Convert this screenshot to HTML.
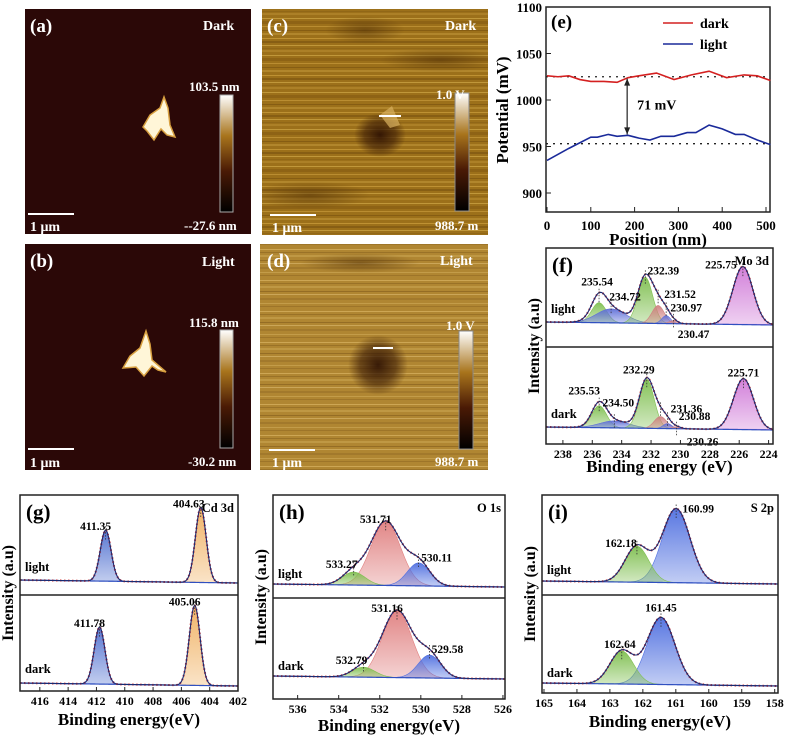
<!DOCTYPE html>
<html><head><meta charset="utf-8"><style>
html,body{margin:0;padding:0;background:#fff;}
svg{display:block;font-family:"Liberation Serif",serif;font-weight:bold;}
</style></head><body>
<svg id="fig" width="790" height="737" viewBox="0 0 790 737" xmlns="http://www.w3.org/2000/svg">
<defs>
<linearGradient id="cbar" x1="0" y1="1" x2="0" y2="0">
<stop offset="0" stop-color="#000"/><stop offset="0.35" stop-color="#4a1a05"/><stop offset="0.65" stop-color="#a8741c"/><stop offset="1" stop-color="#fff"/>
</linearGradient>
<pattern id="stripesC" width="230" height="37" patternUnits="userSpaceOnUse">
<rect width="230" height="37" fill="#9c701a"/>
<rect y="1" width="230" height="1" fill="#c79a3a" opacity="0.8"/>
<rect y="4" width="230" height="2" fill="#7a5210" opacity="0.6"/>
<rect y="8" width="230" height="1" fill="#d0a848" opacity="0.7"/>
<rect y="11" width="230" height="1" fill="#8a6015" opacity="0.6"/>
<rect y="13" width="230" height="2" fill="#b88a30" opacity="0.6"/>
<rect y="18" width="230" height="1" fill="#d8b050" opacity="0.6"/>
<rect y="21" width="230" height="3" fill="#80560f" opacity="0.5"/>
<rect y="26" width="230" height="1" fill="#c89a3a" opacity="0.7"/>
<rect y="30" width="230" height="1" fill="#704a0c" opacity="0.5"/>
<rect y="33" width="230" height="2" fill="#c09438" opacity="0.6"/>
</pattern>
<pattern id="stripesD" width="230" height="31" patternUnits="userSpaceOnUse">
<rect width="230" height="31" fill="#b08632"/>
<rect y="1" width="230" height="1" fill="#d4ae5c" opacity="0.8"/>
<rect y="4" width="230" height="1" fill="#8c6420" opacity="0.6"/>
<rect y="7" width="230" height="2" fill="#caa450" opacity="0.6"/>
<rect y="12" width="230" height="1" fill="#845c1c" opacity="0.6"/>
<rect y="15" width="230" height="1" fill="#d8b468" opacity="0.7"/>
<rect y="19" width="230" height="2" fill="#9a7028" opacity="0.6"/>
<rect y="24" width="230" height="1" fill="#d0aa58" opacity="0.6"/>
<rect y="27" width="230" height="1" fill="#8c6420" opacity="0.5"/>
</pattern>
<radialGradient id="blob"><stop offset="0" stop-color="#2a0e02" stop-opacity="0.9"/><stop offset="0.6" stop-color="#3a1a05" stop-opacity="0.6"/><stop offset="1" stop-color="#3a1a05" stop-opacity="0"/></radialGradient>
<radialGradient id="band"><stop offset="0" stop-color="#4a2a05" stop-opacity="0.5"/><stop offset="1" stop-color="#4a2a05" stop-opacity="0"/></radialGradient>
<clipPath id="clipC"><rect x="262" y="9" width="226" height="226"/></clipPath>
<clipPath id="clipD"><rect x="260" y="244" width="228" height="226"/></clipPath>
</defs>

<!-- (a) -->
<g>
<rect x="25" y="9" width="226" height="225" fill="#2b0807"/>
<polygon points="143,127 150,115 160,108 164,97 168,108 170,125 175,137 167,135 161,129 154,140 147,131" fill="#fff6d8" stroke="#d8a040" stroke-width="1.5"/>
<text x="30" y="32" fill="#fff" font-size="19">(a)</text>
<text x="203" y="30" fill="#fff" font-size="14">Dark</text>
<rect x="220" y="95" width="13" height="117" fill="url(#cbar)" stroke="#aaa" stroke-width="1"/>
<text x="189" y="91" fill="#fff" font-size="13">103.5 nm</text>
<text x="184" y="230" fill="#fff" font-size="13">--27.6 nm</text>
<line x1="28" y1="214" x2="74" y2="214" stroke="#fff" stroke-width="2"/>
<text x="30" y="231" fill="#fff" font-size="14">1 μm</text>
</g>
<!-- (b) -->
<g>
<rect x="25" y="244" width="226" height="226" fill="#2b0807"/>
<polygon points="123,368 130,356 140,348 146,331 150,344 152,360 166,372 158,370 152,366 144,376 136,367" fill="#fff6d8" stroke="#d8a040" stroke-width="1.5"/>
<text x="30" y="267" fill="#fff" font-size="19">(b)</text>
<text x="202" y="266" fill="#fff" font-size="14">Light</text>
<rect x="220" y="330" width="13" height="118" fill="url(#cbar)" stroke="#aaa" stroke-width="1"/>
<text x="189" y="327" fill="#fff" font-size="13">115.8 nm</text>
<text x="188" y="466" fill="#fff" font-size="13">-30.2 nm</text>
<line x1="28" y1="449" x2="74" y2="449" stroke="#fff" stroke-width="2"/>
<text x="30" y="467" fill="#fff" font-size="14">1 μm</text>
</g>
<!-- (c) -->
<g>
<rect x="262" y="9" width="226" height="226" fill="url(#stripesC)"/>
<g clip-path="url(#clipC)">
<ellipse cx="365" cy="30" rx="40" ry="14" fill="url(#band)"/>
<ellipse cx="310" cy="195" rx="60" ry="14" fill="url(#band)"/>
<ellipse cx="440" cy="60" rx="60" ry="12" fill="url(#band)"/>
<ellipse cx="380" cy="135" rx="26" ry="22" fill="url(#blob)"/>
</g>
<polygon points="380,115 392,106 400,125 390,128" fill="#d8b060" opacity="0.7"/>
<line x1="379" y1="116" x2="401" y2="116" stroke="#fff" stroke-width="2"/>
<text x="267" y="32" fill="#fff" font-size="19">(c)</text>
<text x="445" y="30" fill="#fff" font-size="14">Dark</text>
<rect x="455" y="93" width="14" height="118" fill="url(#cbar)" stroke="#888" stroke-width="1"/>
<text x="436" y="99" fill="#fff" font-size="13">1.0 V</text>
<text x="435" y="230" fill="#fff" font-size="13">988.7 m</text>
<line x1="270" y1="215" x2="316" y2="215" stroke="#fff" stroke-width="2"/>
<text x="272" y="232" fill="#fff" font-size="14">1 μm</text>
</g>
<!-- (d) -->
<g>
<rect x="260" y="244" width="228" height="226" fill="url(#stripesD)"/>
<g clip-path="url(#clipD)">
<ellipse cx="360" cy="263" rx="60" ry="10" fill="url(#band)"/>
<ellipse cx="378" cy="365" rx="30" ry="30" fill="url(#blob)"/>
</g>
<line x1="373" y1="348" x2="393" y2="348" stroke="#fff" stroke-width="2"/>
<text x="267" y="267" fill="#fff" font-size="19">(d)</text>
<text x="440" y="265" fill="#fff" font-size="14">Light</text>
<rect x="459" y="331" width="14" height="118" fill="url(#cbar)" stroke="#888" stroke-width="1"/>
<text x="446" y="330" fill="#fff" font-size="13">1.0 V</text>
<text x="435" y="466" fill="#fff" font-size="13">988.7 m</text>
<line x1="269" y1="450" x2="315" y2="450" stroke="#fff" stroke-width="2"/>
<text x="272" y="467" fill="#fff" font-size="14">1 μm</text>
</g>

<g id="chartE"></g>
<g id="xps"></g>
</svg>
<script>
// ---- (e) potential profile data ----
const posDark = [0, 25, 50, 75, 100, 130, 160, 185, 210, 250, 290, 330, 370, 410, 450, 480, 510];
const potDark = [1026, 1025, 1026, 1022, 1020, 1020, 1019, 1024, 1026, 1029, 1022, 1027, 1031, 1024, 1027, 1026, 1021];
const posLight = [0, 50, 100, 115, 140, 160, 185, 210, 235, 260, 290, 320, 340, 370, 400, 430, 450, 480, 510];
const potLight = [935, 948, 960, 960, 963, 961, 962, 959, 957, 961, 961, 965, 965, 973, 969, 963, 963, 957, 952];
const xTicksE = [0, 100, 200, 300, 400, 500];
const yTicksE = [900, 950, 1000, 1050, 1100];
const refLevels = [1025, 953];
const gapLabel = "71 mV";

// ---- XPS data: centers (eV), amplitudes (a.u.), sigma (eV) ----
const moLightC = [225.75, 235.54, 234.72, 232.39, 231.52, 230.97, 230.47];
const moLightA = [58, 20, 14, 46, 18, 8, 3];
const moDarkC  = [225.71, 235.53, 234.50, 232.29, 231.36, 230.88, 230.26];
const moDarkA  = [51, 22, 7, 49, 12, 5, 2];
const moSig    = [0.68, 0.5, 1.0, 0.5, 0.42, 0.3, 0.3];
const moCol    = ["#d07ad8", "#7fbf50", "#6070d8", "#7fbf50", "#d08080", "#6070d8", "#d08080"];

const cdLightC = [411.35, 404.63];
const cdLightA = [51, 75];
const cdDarkC  = [411.78, 405.06];
const cdDarkA  = [57, 80];
const cdSig    = [0.38, 0.38];
const cdCol    = ["#5070d0", "#f0b060"];

const oLightC = [531.71, 533.27, 530.11];
const oLightA = [64, 13, 23];
const oDarkC  = [531.16, 532.79, 529.58];
const oDarkA  = [67, 10, 23];
const oSig    = [0.72, 0.55, 0.55];
const oCol    = ["#e08080", "#7fbf50", "#5070e0"];

const sLightC = [160.99, 162.18];
const sLightA = [74, 36];
const sDarkC  = [161.45, 162.64];
const sDarkA  = [67, 33];
const sSig    = [0.42, 0.36];
const sCol    = ["#5070e0", "#7fbf50"];

const NS = "http://www.w3.org/2000/svg";
function mk(tag, attrs, parent) {
  const e = document.createElementNS(NS, tag);
  for (const k in attrs) e.setAttribute(k, attrs[k]);
  parent.appendChild(e);
  return e;
}
function txt(s, attrs, parent) { const t = mk("text", attrs, parent); t.textContent = s; return t; }

// ---- draw (e) ----
(function () {
  const g = document.getElementById("chartE");
  const L = 546, R = 770, T = 7, B = 212;
  const xs = v => L + 1 + (v - 0) * (219 / 500);
  const ys = v => 193 - (v - 900) * (186 / 200);
  const f = mk("rect", {x: L, y: T, width: R - L, height: B - T, fill: "none", stroke: "#222", "stroke-width": 1.5}, g);
  
  
  xTicksE.forEach(v => {
    mk("line", {x1: xs(v), x2: xs(v), y1: B, y2: B - 5, stroke: "#222"}, g);
    const t = txt(String(v), {x: xs(v), y: B + 18, "text-anchor": "middle", "font-size": 13}, g);
    
    
  });
  yTicksE.forEach(v => {
    mk("line", {x1: L, x2: L + 5, y1: ys(v), y2: ys(v), stroke: "#222"}, g);
    const t = txt(String(v), {x: L - 4, y: ys(v) + 5, "text-anchor": "end", "font-size": 13}, g);
    
    
  });
  const xt = txt("Position (nm)", {x: 658, y: 245, "text-anchor": "middle", "font-size": 17}, g);
  
  
  const yt = txt("Potential (mV)", {x: 0, y: 0, "text-anchor": "middle", "font-size": 17, transform: "translate(508,110) rotate(-90)"}, g);
  
  
  refLevels.forEach(v => {
    const l = mk("line", {x1: L, x2: R, y1: ys(v), y2: ys(v), stroke: "#222", "stroke-dasharray": "2,5", "stroke-width": 1.3}, g);
    
    
  });
  const pd = mk("polyline", {points: posDark.map((p, i) => xs(p) + "," + ys(potDark[i])).join(" "), fill: "none", stroke: "#d42020", "stroke-width": 1.6}, g);
  
  
  const pl = mk("polyline", {points: posLight.map((p, i) => xs(p) + "," + ys(potLight[i])).join(" "), fill: "none", stroke: "#1a2a9a", "stroke-width": 1.6}, g);
  
  
  const ax = xs(183);
  const ar = mk("line", {x1: ax, x2: ax, y1: ys(1023), y2: ys(963), stroke: "#222", "stroke-width": 1.2}, g);
  
  
  mk("polygon", {points: `${ax},${ys(1023)} ${ax - 3},${ys(1023) + 7} ${ax + 3},${ys(1023) + 7}`, fill: "#222"}, g);
  mk("polygon", {points: `${ax},${ys(963)} ${ax - 3},${ys(963) - 7} ${ax + 3},${ys(963) - 7}`, fill: "#222"}, g);
  const gl = txt(gapLabel, {x: ax + 10, y: ys(990), "font-size": 14}, g);
  
  
  const pe = txt("(e)", {x: L + 5, y: 28, "font-size": 19}, g);
  
  
  const l1 = mk("line", {x1: 663, x2: 693, y1: 23, y2: 23, stroke: "#d42020", "stroke-width": 1.6}, g);
  
  
  const lt1 = txt("dark", {x: 700, y: 28, "font-size": 14}, g);
  
  
  const l2 = mk("line", {x1: 663, x2: 693, y1: 44, y2: 44, stroke: "#1a2a9a", "stroke-width": 1.6}, g);
  
  
  const lt2 = txt("light", {x: 700, y: 49, "font-size": 14}, g);
  
  
})();

// ---- XPS drawing ----
let gradId = 0;
function gradFor(col, defs) {
  const id = "g" + (gradId++);
  const lg = mk("linearGradient", {id: id, x1: 0, y1: 0, x2: 0, y2: 1}, defs);
  mk("stop", {offset: 0, "stop-color": col, "stop-opacity": 0.95}, lg);
  mk("stop", {offset: 1, "stop-color": col, "stop-opacity": 0.35}, lg);
  return "url(#" + id + ")";
}
function drawSub(g, defs, xs, base, ysc, C, A, S, cols, x0, x1, labels, labelOff) {
  const N = 300;
  const gauss = (x, c, a, s) => a * Math.exp(-((x - c) * (x - c)) / (2 * s * s));
  const baseline = x => base + (x - x1) / (x0 - x1) * -3;
  C.forEach((c, k) => {
    let pts = [];
    for (let i = 0; i <= N; i++) {
      const x = x0 + (x1 - x0) * i / N;
      const v = gauss(x, c, A[k], S[k]);
      if (v > 0.2) pts.push(xs(x) + "," + (baseline(x) - v * ysc));
    }
    if (pts.length < 2) return;
    const poly = mk("polygon", {points: pts.join(" "), fill: gradFor(cols[k], defs), stroke: cols[k], "stroke-width": 0.6}, g);
    
    
  });
  let env = [], bl = [];
  for (let i = 0; i <= N; i++) {
    const x = x0 + (x1 - x0) * i / N;
    let v = 0;
    C.forEach((c, k) => v += gauss(x, c, A[k], S[k]));
    env.push(xs(x) + "," + (baseline(x) - v * ysc));
    bl.push(xs(x) + "," + baseline(x));
  }
  const b = mk("polyline", {points: bl.join(" "), fill: "none", stroke: "#3050c0", "stroke-width": 1.2}, g);
  
  
  const r = mk("polyline", {points: env.join(" "), fill: "none", stroke: "#d03030", "stroke-width": 2, "stroke-dasharray": "1.5,2.5"}, g);
  
  
  const e = mk("polyline", {points: env.join(" "), fill: "none", stroke: "#1a2a70", "stroke-width": 1.1}, g);
  
  
  if (labels) C.forEach((c, k) => {
    let v = 0; C.forEach((cc, kk) => v += gauss(c, cc, A[kk], S[kk]));
    const py = baseline(c) - v * ysc;
    mk("line", {x1: xs(c), x2: xs(c), y1: py - 4, y2: py + 10, stroke: "#333", "stroke-dasharray": "1.5,1.5", "stroke-width": 0.8}, g);
    const o = labelOff[k];
    const t = txt(c.toFixed(2), {x: xs(c) + o[0], y: py + o[1], "font-size": 11.5, "text-anchor": "middle"}, g);
    
    
  });
}
function xpsPanel(cfg) {
  const root = document.getElementById("xps");
  const g = mk("g", {}, root);
  
  
  const defs = mk("defs", {}, g);
  const xs = v => cfg.L + (cfg.xmax - v) / (cfg.xmax - cfg.xmin) * (cfg.R - cfg.L);
  drawSub(g, defs, xs, cfg.baseTop, 1, cfg.topC, cfg.topA, cfg.sig, cfg.cols, cfg.xmax, cfg.xmin, true, cfg.topOff);
  drawSub(g, defs, xs, cfg.baseBot, 1, cfg.botC, cfg.botA, cfg.sig, cfg.cols, cfg.xmax, cfg.xmin, true, cfg.botOff);
  const fr = mk("rect", {x: cfg.L, y: cfg.T, width: cfg.R - cfg.L, height: cfg.B - cfg.T, fill: "none", stroke: "#222", "stroke-width": 1.5}, g);
  
  
  mk("line", {x1: cfg.L, x2: cfg.R, y1: cfg.M, y2: cfg.M, stroke: "#222", "stroke-width": 1.5}, g);
  cfg.ticks.forEach(v => {
    mk("line", {x1: xs(v), x2: xs(v), y1: cfg.B, y2: cfg.B - 4, stroke: "#222"}, g);
    const t = txt(String(v), {x: xs(v), y: cfg.B + cfg.tickDy, "text-anchor": "middle", "font-size": 12}, g);
    
    
  });
  const xt = txt(cfg.xtitle, {x: (cfg.L + cfg.R) / 2, y: cfg.B + cfg.titleDy, "text-anchor": "middle", "font-size": 17}, g);
  
  
  const yt = txt("Intensity (a.u)", {x: 0, y: 0, "text-anchor": "middle", "font-size": 16, transform: `translate(${cfg.L - 7},${(cfg.T + cfg.B) / 2}) rotate(-90)`}, g);
  
  
  const pl = txt(cfg.panel, {x: cfg.L + 6, y: cfg.T + 24, "font-size": 21}, g);
  
  
  const el = txt(cfg.elem, {x: cfg.R - 4, y: cfg.T + 17, "text-anchor": "end", "font-size": 12.5}, g);
  
  
  const lt = txt("light", {x: cfg.L + 5, y: cfg.lightY, "font-size": 12.5}, g);
  
  
  const dk = txt("dark", {x: cfg.L + 5, y: cfg.darkY, "font-size": 12.5}, g);
  
  
}
xpsPanel({name: "xps-mo3d", L: 546, R: 773, T: 248, M: 347, B: 444, xmin: 223.7, xmax: 239.15,
  baseTop: 325, baseBot: 430, topC: moLightC, topA: moLightA, botC: moDarkC, botA: moDarkA, sig: moSig, cols: moCol,
  ticks: [238, 236, 234, 232, 230, 228, 226, 224], xtitle: "Binding energy (eV)", panel: "(f)", elem: "Mo 3d",
  tickDy: 14, titleDy: 28,
  lightY: 313, darkY: 418,
  topOff: [[-22, 2], [-2, -7], [14, -3], [18, 0], [22, 4], [20, 5], [20, 20]],
  botOff: [[0, -2], [-15, -7], [4, -12], [-8, -4], [26, 6], [27, 4], [26, 20]]});
xpsPanel({name: "xps-cd3d", L: 20, R: 238, T: 495, M: 595, B: 691, xmin: 402, xmax: 417.4,
  baseTop: 583, baseBot: 686, topC: cdLightC, topA: cdLightA, botC: cdDarkC, botA: cdDarkA, sig: cdSig, cols: cdCol,
  ticks: [416, 414, 412, 410, 408, 406, 404, 402], xtitle: "Binding energy(eV)", panel: "(g)", elem: "Cd 3d",
  tickDy: 14, titleDy: 34,
  lightY: 571, darkY: 673,
  topOff: [[-10, 0], [-12, 0]], botOff: [[-10, 0], [-10, 0]]});
xpsPanel({name: "xps-o1s", L: 273, R: 505, T: 495, M: 598, B: 699, xmin: 525.9, xmax: 537.2,
  baseTop: 587, baseBot: 679, topC: oLightC, topA: oLightA, botC: oDarkC, botA: oDarkA, sig: oSig, cols: oCol,
  ticks: [536, 534, 532, 530, 528, 526], xtitle: "Binding energy(eV)", panel: "(h)", elem: "O 1s",
  tickDy: 14, titleDy: 32,
  lightY: 578, darkY: 670,
  topOff: [[-10, 2], [-12, 2], [18, 4]], botOff: [[-10, 2], [-12, 2], [18, 4]]});
xpsPanel({name: "xps-s2p", L: 542, R: 778, T: 495, M: 595, B: 693, xmin: 157.9, xmax: 165.06,
  baseTop: 584, baseBot: 686, topC: sLightC, topA: sLightA, botC: sDarkC, botA: sDarkA, sig: sSig, cols: sCol,
  ticks: [165, 164, 163, 162, 161, 160, 159, 158], xtitle: "Binding energy(eV)", panel: "(i)", elem: "S 2p",
  tickDy: 14, titleDy: 34,
  lightY: 574, darkY: 677,
  topOff: [[22, 4], [-16, 2]], botOff: [[0, -6], [-2, -2]]});
</script>
</body></html>
